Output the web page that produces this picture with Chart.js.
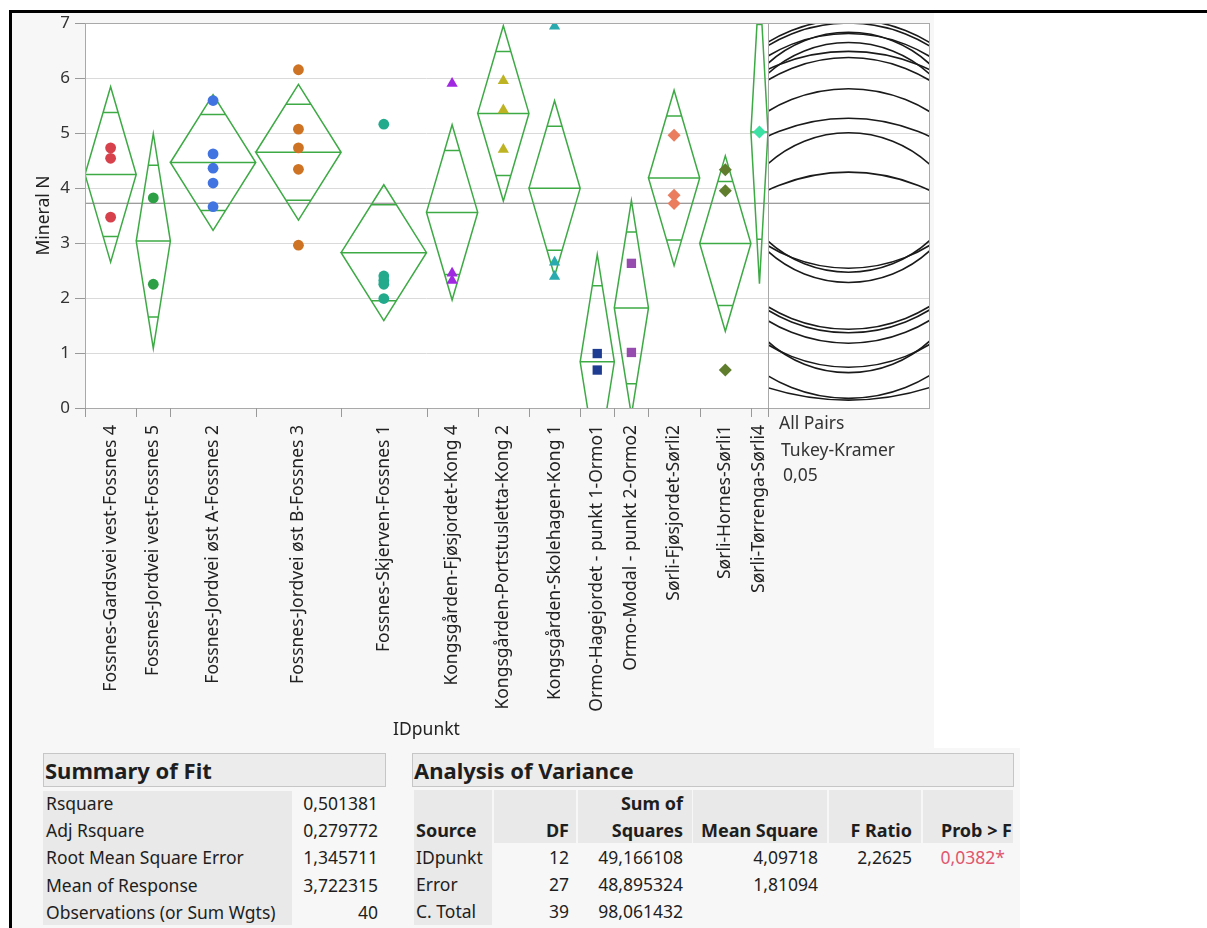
<!DOCTYPE html>
<html>
<head>
<meta charset="utf-8">
<script src="https://cdn.jsdelivr.net/npm/chart.js@4.4.1/dist/chart.umd.min.js"></script>
<style>
  body { margin: 0; background: #fff; overflow: hidden; }
  #root { position: relative; width: 1207px; height: 928px; font-family: "Noto Sans", sans-serif; color: #1e1e1e; }
  .abs { position: absolute; }
  .txt { position: absolute; white-space: nowrap; font-size: 17.5px; line-height: 24px; }
  #plotWrap { position: absolute; left: 12px; top: 13px; width: 922px; height: 735px; }
</style>
</head>
<body>
<div id="root">
  <div class="abs" style="left:12px;top:12px;width:922px;height:736px;background:#f7f7f7"></div>
  <div class="abs" style="left:12px;top:748px;width:1008px;height:180px;background:#f7f7f7"></div>
  <div id="plotWrap"><canvas id="chart" width="922" height="735"></canvas></div>
  <div class="abs" style="left:9px;top:10px;width:1198px;height:3px;background:#000"></div>
  <div class="abs" style="left:9px;top:10px;width:3px;height:918px;background:#000"></div>
</div>
<script>
// groups on the x axis (IDpunkt)
const groups = [
  "Fossnes-Gardsvei vest-Fossnes 4",
  "Fossnes-Jordvei vest-Fossnes 5",
  "Fossnes-Jordvei øst A-Fossnes 2",
  "Fossnes-Jordvei øst B-Fossnes 3",
  "Fossnes-Skjerven-Fossnes 1",
  "Kongsgården-Fjøsjordet-Kong 4",
  "Kongsgården-Portstusletta-Kong 2",
  "Kongsgården-Skolehagen-Kong 1",
  "Ormo-Hagejordet - punkt 1-Ormo1",
  "Ormo-Modal - punkt 2-Ormo2",
  "Sørli-Fjøsjordet-Sørli2",
  "Sørli-Hornes-Sørli1",
  "Sørli-Tørrenga-Sørli4"
];
// Mineral N observations per group
const mineralN = [
  [4.73, 4.54, 3.47],
  [3.82, 2.25],
  [5.59, 4.62, 4.36, 4.09, 3.66],
  [6.15, 5.07, 4.73, 4.34, 2.96],
  [5.16, 2.40, 2.32, 2.25, 1.99],
  [5.90, 2.45, 2.32],
  [5.95, 5.42, 4.70],
  [6.94, 2.65, 2.39],
  [0.99, 0.69],
  [2.63, 1.01],
  [4.96, 3.87, 3.72],
  [4.33, 3.95, 0.69],
  [5.02]
];
const yTicks = [0, 1, 2, 3, 4, 5, 6, 7];
const markerColors = ["#d7414b", "#2da046", "#4173e1", "#cd7323", "#23aa8c", "#a028e1", "#beb423",
  "#28aaaf", "#1e3c91", "#964baf", "#eb7d5f", "#5f7d2d", "#3ce1a5"];
const markerShapes = ["circle", "circle", "circle", "circle", "circle", "triangle", "triangle",
  "triangle", "rect", "rect", "rectRot", "rectRot", "rectRot"];

// fit statistics (from the report)
const grandMean = 3.722315;
const rmse = 1.345711;
const tCrit = 2.0518;   // t(0.975, 27)
const qStar = 3.624;    // Tukey-Kramer q* (13 groups, 27 df, alpha 0.05)

const fitLabels = ["Rsquare", "Adj Rsquare", "Root Mean Square Error", "Mean of Response", "Observations (or Sum Wgts)"];
const fitValues = ["0,501381", "0,279772", "1,345711", "3,722315", "40"];
const anovaSource = ["IDpunkt", "Error", "C. Total"];
const anovaDF = ["12", "27", "39"];
const anovaSS = ["49,166108", "48,895324", "98,061432"];
const anovaMS = ["4,09718", "1,81094", ""];
const anovaF = ["2,2625", "", ""];
const anovaP = ["0,0382*", "", ""];

const FONT = "'Noto Sans', sans-serif";
const GREEN = "#3daa45";

// group widths follow the number of observations
const counts = mineralN.map(a => a.length);
const bounds = [0];
counts.forEach(n => bounds.push(bounds[bounds.length - 1] + n));
const centers = counts.map((n, i) => bounds[i] + n / 2);
const means = mineralN.map(a => a.reduce((s, v) => s + v, 0) / a.length);

const datasets = [];

mineralN.forEach((vals, i) => {
  datasets.push({
    type: "scatter",
    data: vals.map(v => ({ x: centers[i], y: v })),
    pointStyle: markerShapes[i],
    pointRadius: markerShapes[i] === "circle" ? 5.4 : (markerShapes[i] === "rect" ? 6.6 : 6.5),
    backgroundColor: markerColors[i],
    borderColor: markerColors[i],
    borderWidth: 0,
    order: 0
  });
});

// means diamonds with overlap marks
mineralN.forEach((vals, i) => {
  const x0 = bounds[i], x1 = bounds[i + 1], xc = centers[i], m = means[i];
  const h = tCrit * rmse / Math.sqrt(counts[i]);
  const ov = h / Math.SQRT2;
  const hw = (x1 - x0) / 2 * (1 - ov / h);
  const gap = { x: xc, y: null };
  datasets.push({
    type: "scatter",
    showLine: true,
    spanGaps: false,
    data: [
      { x: x0, y: m }, { x: xc, y: m + h }, { x: x1, y: m }, { x: xc, y: m - h }, { x: x0, y: m }, { x: x1, y: m },
      gap, { x: xc - hw, y: m + ov }, { x: xc + hw, y: m + ov },
      gap, { x: xc - hw, y: m - ov }, { x: xc + hw, y: m - ov }
    ],
    borderColor: GREEN,
    borderWidth: 1.5,
    pointRadius: 0,
    fill: false,
    order: 1
  });
});

// grand mean line
datasets.push({
  type: "scatter",
  showLine: true,
  data: [{ x: 0, y: grandMean }, { x: 40, y: grandMean }],
  borderColor: "#7c7c7c",
  borderWidth: 1.2,
  pointRadius: 0,
  order: 2
});

const PANEL_W = 161;

const oneway = {
  id: "oneway",
  beforeDraw(chart) {
    const { ctx, chartArea: a } = chart;
    ctx.save();
    ctx.fillStyle = "#fff";
    ctx.fillRect(a.left, a.top, a.right - a.left, a.bottom - a.top);
    ctx.restore();
  },
  afterDatasetsDraw(chart) {
    const { ctx, chartArea: a, scales: { x, y } } = chart;
    const left = a.right, right = a.right + PANEL_W;
    ctx.save();
    // comparison circles panel
    ctx.fillStyle = "#fff";
    ctx.fillRect(left, a.top, PANEL_W, a.bottom - a.top);
    ctx.strokeStyle = "#dadada";
    ctx.lineWidth = 1;
    yTicks.forEach(t => {
      const py = Math.round(y.getPixelForValue(t)) + 0.5;
      ctx.beginPath(); ctx.moveTo(left, py); ctx.lineTo(right, py); ctx.stroke();
    });
    ctx.strokeStyle = "#7c7c7c";
    ctx.lineWidth = 1.2;
    const gm = y.getPixelForValue(grandMean);
    ctx.beginPath(); ctx.moveTo(left, gm); ctx.lineTo(right, gm); ctx.stroke();

    ctx.save();
    ctx.beginPath(); ctx.rect(left, a.top, PANEL_W, a.bottom - a.top); ctx.clip();
    const unit = y.getPixelForValue(0) - y.getPixelForValue(1);
    const cx = left + PANEL_W / 2;
    ctx.strokeStyle = "#1a1a1a";
    ctx.lineWidth = 1.6;
    means.forEach((m, i) => {
      const r = qStar * rmse / Math.sqrt(counts[i]) * unit;
      ctx.beginPath(); ctx.arc(cx, y.getPixelForValue(m), r, 0, Math.PI * 2); ctx.stroke();
    });
    ctx.restore();

    // frames
    ctx.strokeStyle = "#a9a9a9";
    ctx.lineWidth = 1;
    ctx.strokeRect(Math.round(a.left) + 0.5, Math.round(a.top) + 0.5, Math.round(a.right - a.left), Math.round(a.bottom - a.top));
    ctx.strokeRect(Math.round(left) + 0.5, Math.round(a.top) + 0.5, PANEL_W, Math.round(a.bottom - a.top));

    // group boundary ticks on the x axis
    ctx.strokeStyle = "#999";
    bounds.forEach(b => {
      const px = Math.round(x.getPixelForValue(b)) + 0.5;
      ctx.beginPath(); ctx.moveTo(px, a.bottom); ctx.lineTo(px, a.bottom + 9); ctx.stroke();
    });
    ctx.restore();
  }
};

new Chart(document.getElementById("chart"), {
  data: { datasets },
  options: {
    responsive: false,
    animation: false,
    events: [],
    layout: { padding: { top: 10, right: 922 - 756, left: 0, bottom: 0 } },
    plugins: { legend: { display: false }, tooltip: { enabled: false } },
    scales: {
      x: {
        type: "linear",
        min: 0,
        max: 40,
        afterBuildTicks: s => { s.ticks = centers.map(v => ({ value: v })); },
        afterFit: s => { s.height = 340; s.paddingLeft = 0; s.paddingRight = 0; },
        ticks: {
          autoSkip: false,
          minRotation: 90,
          maxRotation: 90,
          padding: 9,
          color: "#222",
          font: { family: FONT, size: 17.5 },
          callback: (v, idx) => groups[idx]
        },
        grid: { display: false },
        border: { display: false },
        title: { display: true, text: "IDpunkt", color: "#222", font: { family: FONT, size: 17.5 }, padding: { top: 0, bottom: 7 } }
      },
      y: {
        type: "linear",
        min: 0,
        max: 7,
        afterBuildTicks: s => { s.ticks = yTicks.map(v => ({ value: v })); },
        afterFit: s => { s.width = 73; s.paddingTop = 0; s.paddingBottom = 0; },
        ticks: { padding: 5, color: "#333", font: { family: FONT, size: 17 } },
        grid: { color: "#dadada", tickColor: "#999", tickLength: 10 },
        border: { display: false },
        title: { display: true, text: "Mineral N", color: "#222", font: { family: FONT, size: 17.5 }, padding: { top: 22, bottom: 0 } }
      }
    }
  },
  plugins: [oneway]
});

// report tables
const root = document.getElementById("root");
function addBox(x, y, w, h, bg, border) {
  const d = document.createElement("div");
  d.className = "abs";
  d.style.cssText += `left:${x}px;top:${y}px;width:${w}px;height:${h}px;background:${bg};` +
    (border ? `border:1px solid ${border};box-sizing:border-box;` : "");
  root.appendChild(d);
}
function addText(text, x, y, o = {}) {
  const d = document.createElement("div");
  d.className = "txt";
  d.textContent = text;
  d.style.top = (y - 12) + "px";
  if (o.align === "right") d.style.right = (1207 - x) + "px"; else d.style.left = x + "px";
  if (o.bold) d.style.fontWeight = "bold";
  if (o.size) d.style.fontSize = o.size + "px";
  if (o.color) d.style.color = o.color;
  root.appendChild(d);
}

addText("All Pairs", 779, 422, { color: "#333" });
addText("Tukey-Kramer", 781, 449, { color: "#333" });
addText("0,05", 783, 474, { color: "#333" });

// Summary of Fit
addBox(43, 753, 343, 34, "#ececec", "#c6c6c6");
addText("Summary of Fit", 45, 770, { bold: true, size: 22 });
addBox(43, 791, 249, 134, "#e9e9e9");
fitLabels.forEach((l, i) => {
  const yy = 803 + i * 27.2;
  addText(l, 46, yy);
  addText(fitValues[i], 378, yy, { align: "right" });
});

// Analysis of Variance
addBox(412, 753, 602, 34, "#ececec", "#c6c6c6");
addText("Analysis of Variance", 414, 770, { bold: true, size: 22 });
const colL = [414, 494, 578, 693, 829, 923];
const colR = [492, 576, 692, 827, 921, 1013];
colL.forEach((l, i) => addBox(l, 790, colR[i] - l, 53, "#e9e9e9"));
addBox(414, 843, 78, 82, "#e9e9e9");
addText("Sum of", 683, 803, { align: "right", bold: true, size: 18 });
addText("Source", 416, 830, { bold: true, size: 18 });
addText("DF", 569, 830, { align: "right", bold: true, size: 18 });
addText("Squares", 683, 830, { align: "right", bold: true, size: 18 });
addText("Mean Square", 818, 830, { align: "right", bold: true, size: 18 });
addText("F Ratio", 912, 830, { align: "right", bold: true, size: 18 });
addText("Prob > F", 1012, 830, { align: "right", bold: true, size: 18 });
anovaSource.forEach((s, i) => {
  const yy = 857 + i * 27.2;
  addText(s, 416, yy);
  addText(anovaDF[i], 569, yy, { align: "right" });
  addText(anovaSS[i], 683, yy, { align: "right" });
  addText(anovaMS[i], 818, yy, { align: "right" });
  addText(anovaF[i], 912, yy, { align: "right" });
  addText(anovaP[i], 1005, yy, { align: "right", color: "#e0566e" });
});
</script>
</body>
</html>
